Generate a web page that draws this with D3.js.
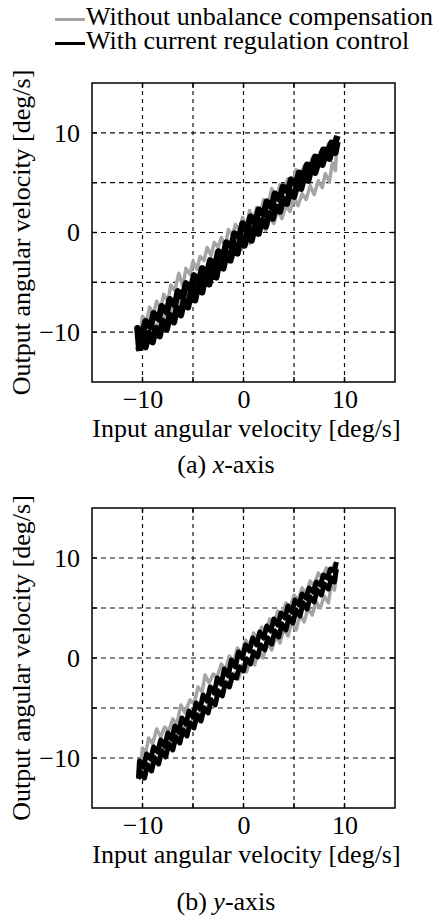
<!DOCTYPE html>
<html>
<head>
<meta charset="utf-8">
<script src="https://cdn.jsdelivr.net/npm/d3@7"></script>
<style>
  html, body { margin: 0; padding: 0; background: #fff; }
  svg text { font-family: "Liberation Serif", "Times New Roman", serif; fill: #000; }
</style>
</head>
<body>
<svg id="chart"></svg>
<script>
// Input vs output angular velocity, two panels (x-axis / y-axis)

const width = 446;
const height = 917;

const domain = [-15, 15];
const gridTicks = [-10, -5, 0, 5, 10];
const labelTicks = [-10, 0, 10];

const seriesNames = ["Without unbalance compensation", "With current regulation control"];
const seriesColors = ["#a4a4a4", "#000000"];

// panel (a): x-axis, gray = without compensation, black = with current regulation
const grayUpA = [[-10.3,-10.9],[-10.1,-9.2],[-10.0,-8.4],[-9.6,-8.9],[-9.3,-7.5],[-8.9,-8.2],[-8.6,-6.9],[-8.2,-7.6],[-7.9,-6.2],[-7.5,-6.9],[-7.2,-5.3],[-6.8,-5.8],[-6.4,-4.1],[-6.0,-5.4],[-5.7,-3.6],[-5.3,-4.2],[-5.0,-2.9],[-4.6,-3.7],[-4.3,-2.4],[-3.9,-2.8],[-3.6,-1.5],[-3.2,-2.3],[-2.9,-1.0],[-2.5,-1.5],[-2.2,-0.5],[-1.8,-1.4],[-1.5,0.3],[-1.1,-0.3],[-0.8,0.8],[-0.4,0.2],[-0.1,1.5],[0.3,0.7],[0.6,2.2],[1.0,1.3],[1.3,2.5],[1.7,2.1],[2.0,3.3],[2.4,2.6],[2.8,4.4],[3.2,3.2],[3.6,4.8],[4.0,4.3],[4.4,5.4],[4.8,4.8],[5.2,6.3],[5.6,5.5],[6.0,6.7],[6.4,6.3],[6.8,7.5],[7.2,6.8],[7.6,8.1],[8.0,7.7],[8.4,8.9],[8.8,8.3],[9.1,9.4],[9.2,8.6]];
const grayDownA = [[9.2,8.0],[9.1,6.2],[8.8,7.0],[8.5,5.1],[8.1,5.9],[7.8,4.5],[7.4,5.2],[7.0,3.8],[6.6,4.7],[6.2,3.3],[5.8,3.9],[5.4,2.7],[5.0,3.5],[4.6,2.1],[4.2,2.7],[3.8,1.4],[3.4,2.3],[3.0,0.9],[2.6,1.5],[2.2,0.2],[1.8,1.1],[1.4,-0.3],[1.0,0.3],[0.6,-1.1],[0.2,-0.2],[-0.2,-1.7],[-0.6,-1.0],[-1.0,-2.5],[-1.4,-1.6],[-1.8,-3.4],[-2.2,-2.6],[-2.6,-4.0],[-3.0,-3.5],[-3.4,-4.9],[-3.8,-4.1],[-4.2,-5.8],[-4.6,-5.0],[-5.0,-6.5],[-5.4,-5.9],[-5.8,-7.3],[-6.2,-6.6],[-6.6,-8.1],[-7.0,-7.5],[-7.4,-9.0],[-7.8,-8.3],[-8.2,-9.7],[-8.6,-9.2],[-9.0,-10.4],[-9.4,-9.8],[-9.8,-11.2],[-10.2,-10.6],[-10.4,-11.6]];
const blackUpA = [[-10.3,-11.9],[-10.5,-9.6],[-10.0,-10.2],[-9.7,-8.9],[-9.2,-9.5],[-8.9,-8.1],[-8.4,-8.7],[-8.1,-7.4],[-7.6,-8.0],[-7.3,-6.7],[-6.8,-7.3],[-6.5,-5.9],[-6.0,-6.5],[-5.7,-5.1],[-5.2,-5.7],[-4.9,-4.3],[-4.4,-4.9],[-4.1,-3.6],[-3.6,-4.1],[-3.3,-2.8],[-2.8,-3.3],[-2.5,-1.9],[-2.0,-2.4],[-1.7,-1.0],[-1.2,-1.4],[-0.9,-0.1],[-0.4,-0.4],[-0.1,0.9],[0.4,0.4],[0.7,1.6],[1.2,1.0],[1.5,2.3],[2.0,1.8],[2.3,3.1],[2.8,2.5],[3.1,3.9],[3.6,3.3],[3.9,4.6],[4.4,4.1],[4.7,5.3],[5.2,4.9],[5.5,6.0],[6.0,5.8],[6.3,6.8],[6.8,6.6],[7.1,7.6],[7.6,7.4],[7.9,8.3],[8.4,8.2],[8.7,9.0],[9.0,8.7],[9.3,9.7]];
const blackDownA = [[9.3,9.1],[9.1,8.0],[8.8,8.4],[8.5,7.4],[8.1,7.8],[7.8,6.8],[7.4,7.1],[7.1,6.0],[6.7,6.4],[6.4,5.2],[6.0,5.6],[5.7,4.4],[5.3,4.8],[5.0,3.6],[4.6,4.1],[4.3,2.9],[3.9,3.4],[3.6,2.1],[3.2,2.6],[2.9,1.4],[2.5,1.9],[2.2,0.6],[1.8,1.2],[1.5,-0.1],[1.1,0.6],[0.8,-0.8],[0.4,0.2],[0.1,-1.3],[-0.3,-0.5],[-0.6,-2.1],[-1.0,-1.2],[-1.3,-2.8],[-1.7,-2.0],[-2.0,-3.6],[-2.4,-2.9],[-2.7,-4.5],[-3.1,-3.7],[-3.4,-5.2],[-3.8,-4.5],[-4.1,-6.0],[-4.5,-5.3],[-4.8,-6.8],[-5.2,-6.0],[-5.5,-7.5],[-5.9,-6.8],[-6.2,-8.3],[-6.6,-7.6],[-6.9,-9.0],[-7.3,-8.3],[-7.6,-9.7],[-8.0,-8.9],[-8.3,-10.4],[-8.7,-9.6],[-9.0,-11.0],[-9.4,-10.1],[-9.7,-11.5],[-10.1,-10.6],[-10.4,-11.8]];

// panel (b): y-axis
const grayUpB = [[-10.2,-11.0],[-10.0,-9.0],[-9.7,-9.6],[-9.4,-8.0],[-9.0,-8.6],[-8.6,-7.1],[-8.2,-7.9],[-7.8,-6.9],[-7.4,-7.3],[-7.0,-6.1],[-6.6,-6.6],[-6.2,-4.7],[-5.8,-5.5],[-5.3,-4.2],[-4.9,-4.6],[-4.5,-2.9],[-4.1,-3.4],[-3.8,-1.7],[-3.4,-2.5],[-3.0,-1.6],[-2.6,-1.9],[-2.2,-0.6],[-1.8,-1.2],[-1.4,0.2],[-1.0,-0.4],[-0.6,1.0],[-0.2,0.4],[0.2,1.8],[0.6,1.2],[1.0,2.5],[1.4,1.9],[1.8,3.1],[2.2,2.6],[2.6,3.9],[3.0,3.4],[3.4,4.7],[3.8,4.2],[4.2,5.5],[4.6,5.0],[5.0,6.3],[5.4,5.8],[5.8,7.0],[6.2,6.5],[6.6,7.7],[7.0,7.2],[7.4,8.5],[7.8,8.0],[8.2,9.0],[8.6,8.6],[9.0,9.4],[9.2,8.8]];
const grayDownB = [[9.2,8.2],[9.0,6.8],[8.7,7.4],[8.4,5.5],[8.0,6.2],[7.6,5.0],[7.2,5.6],[6.8,4.3],[6.4,5.0],[6.0,3.6],[5.6,4.3],[5.2,2.8],[4.8,3.6],[4.4,2.2],[4.0,2.9],[3.6,1.5],[3.2,2.2],[2.8,0.8],[2.4,1.5],[1.9,0.0],[1.5,0.7],[1.1,-0.7],[0.7,0.0],[0.3,-1.4],[-0.1,-0.7],[-0.5,-2.1],[-0.9,-1.5],[-1.3,-2.9],[-1.7,-2.3],[-2.1,-3.8],[-2.5,-3.2],[-2.9,-4.6],[-3.3,-4.0],[-3.7,-5.4],[-4.1,-4.9],[-4.5,-6.3],[-4.9,-5.7],[-5.3,-7.1],[-5.7,-6.5],[-6.1,-7.9],[-6.5,-7.3],[-6.9,-8.7],[-7.3,-8.1],[-7.7,-9.5],[-8.1,-8.9],[-8.5,-10.3],[-8.9,-9.7],[-9.3,-11.1],[-9.7,-10.5],[-10.1,-11.7],[-10.3,-11.2]];
const blackUpB = [[-10.4,-12.0],[-10.3,-10.3],[-9.9,-10.9],[-9.6,-9.6],[-9.2,-10.1],[-8.9,-8.9],[-8.5,-9.4],[-8.2,-8.2],[-7.8,-8.8],[-7.5,-7.5],[-7.1,-8.1],[-6.8,-6.8],[-6.4,-7.4],[-6.1,-6.0],[-5.7,-6.6],[-5.4,-5.3],[-5.0,-5.9],[-4.7,-4.5],[-4.3,-5.1],[-4.0,-3.7],[-3.6,-4.3],[-3.3,-2.9],[-2.9,-3.5],[-2.6,-2.0],[-2.2,-2.6],[-1.9,-1.1],[-1.5,-1.8],[-1.2,-0.2],[-0.8,-0.9],[-0.5,0.6],[-0.1,0.0],[0.2,1.3],[0.6,0.7],[0.9,2.0],[1.3,1.3],[1.6,2.6],[2.0,2.0],[2.3,3.2],[2.7,2.7],[3.0,3.9],[3.4,3.3],[3.7,4.5],[4.1,4.0],[4.4,5.2],[4.8,4.6],[5.1,5.8],[5.5,5.3],[5.8,6.4],[6.2,6.0],[6.5,7.0],[6.9,6.6],[7.2,7.6],[7.6,7.3],[7.9,8.3],[8.3,8.0],[8.6,8.9],[9.0,8.7],[9.2,9.6]];
const blackDownB = [[9.2,8.9],[9.0,7.6],[8.7,8.0],[8.4,6.9],[8.0,7.4],[7.7,6.3],[7.3,6.8],[7.0,5.6],[6.6,6.1],[6.3,4.9],[5.9,5.5],[5.6,4.2],[5.2,4.8],[4.9,3.5],[4.5,4.1],[4.2,2.8],[3.8,3.4],[3.5,2.1],[3.1,2.7],[2.8,1.4],[2.4,2.0],[2.1,0.8],[1.7,1.3],[1.4,0.1],[1.0,0.6],[0.7,-0.6],[0.3,-0.1],[0.0,-1.3],[-0.4,-0.9],[-0.7,-2.0],[-1.1,-1.7],[-1.4,-2.9],[-1.8,-2.5],[-2.1,-3.8],[-2.5,-3.3],[-2.8,-4.7],[-3.2,-4.2],[-3.5,-5.5],[-3.9,-5.0],[-4.2,-6.3],[-4.6,-5.7],[-4.9,-7.0],[-5.3,-6.5],[-5.6,-7.8],[-6.0,-7.2],[-6.3,-8.5],[-6.7,-7.9],[-7.0,-9.2],[-7.4,-8.6],[-7.7,-9.9],[-8.1,-9.3],[-8.4,-10.6],[-8.8,-10.0],[-9.1,-11.3],[-9.5,-10.7],[-9.8,-12.0],[-10.2,-11.4],[-10.4,-12.1]];

const panels = [
    { top: 83, bottom: 382, label: "(a) ", axis: "x", gray: [grayUpA, grayDownA], black: [blackUpA, blackDownA], blackWidth: 6.5, captionY: 473 },
    { top: 508, bottom: 808, label: "(b) ", axis: "y", gray: [grayUpB, grayDownB], black: [blackUpB, blackDownB], blackWidth: 5, captionY: 910 }
];

const plotLeft = 92;
const plotRight = 395;
const fontSize = 26;

const svg = d3.select("#chart")
    .attr("width", width)
    .attr("height", height);

// legend
const legend = svg.append("g").attr("class", "legend");
seriesNames.forEach((name, i) => {
    const ly = 19.5 + i * 24;
    legend.append("line")
        .attr("x1", 55).attr("x2", 85)
        .attr("y1", ly).attr("y2", ly)
        .attr("stroke", seriesColors[i])
        .attr("stroke-width", 3);
    legend.append("text")
        .attr("x", 86)
        .attr("y", ly + 5.5)
        .attr("font-size", "26px")
        .text(name);
});

panels.forEach(p => drawPanel(p));

function drawPanel(p) {
    const x = d3.scaleLinear().domain(domain).range([plotLeft, plotRight]);
    const y = d3.scaleLinear().domain(domain).range([p.bottom, p.top]);
    const g = svg.append("g");

    // dashed grid
    g.selectAll(".vgrid")
        .data(gridTicks)
        .enter().append("line")
        .attr("x1", d => x(d)).attr("x2", d => x(d))
        .attr("y1", p.top).attr("y2", p.bottom)
        .attr("stroke", "#111")
        .attr("stroke-width", 1.2)
        .attr("stroke-dasharray", "4,4");
    g.selectAll(".hgrid")
        .data(gridTicks)
        .enter().append("line")
        .attr("x1", plotLeft).attr("x2", plotRight)
        .attr("y1", d => y(d)).attr("y2", d => y(d))
        .attr("stroke", "#111")
        .attr("stroke-width", 1.2)
        .attr("stroke-dasharray", "5,4");

    // inner ticks on all four sides
    const tl = 5;
    gridTicks.forEach(t => {
        g.append("line").attr("x1", x(t)).attr("x2", x(t)).attr("y1", p.bottom).attr("y2", p.bottom - tl).attr("stroke", "#000").attr("stroke-width", 1.4);
        g.append("line").attr("x1", x(t)).attr("x2", x(t)).attr("y1", p.top).attr("y2", p.top + tl).attr("stroke", "#000").attr("stroke-width", 1.4);
        g.append("line").attr("x1", plotLeft).attr("x2", plotLeft + tl).attr("y1", y(t)).attr("y2", y(t)).attr("stroke", "#000").attr("stroke-width", 1.4);
        g.append("line").attr("x1", plotRight).attr("x2", plotRight - tl).attr("y1", y(t)).attr("y2", y(t)).attr("stroke", "#000").attr("stroke-width", 1.4);
    });

    // data
    const line = d3.line().x(d => x(d[0])).y(d => y(d[1]));
    g.selectAll(".gray")
        .data(p.gray)
        .enter().append("path")
        .attr("d", line)
        .attr("fill", "none")
        .attr("stroke", seriesColors[0])
        .attr("stroke-width", 3.5)
        .attr("stroke-linejoin", "round");
    g.selectAll(".black")
        .data(p.black)
        .enter().append("path")
        .attr("d", line)
        .attr("fill", "none")
        .attr("stroke", seriesColors[1])
        .attr("stroke-width", p.blackWidth)
        .attr("stroke-linejoin", "round");

    // frame
    g.append("rect")
        .attr("x", plotLeft).attr("y", p.top)
        .attr("width", plotRight - plotLeft)
        .attr("height", p.bottom - p.top)
        .attr("fill", "none")
        .attr("stroke", "#000")
        .attr("stroke-width", 1.5);

    // tick labels
    const xAxis = g.append("g")
        .attr("transform", `translate(0,${p.bottom})`)
        .call(d3.axisBottom(x).tickValues(labelTicks).tickSize(0).tickPadding(7.5));
    const yAxis = g.append("g")
        .attr("transform", `translate(${plotLeft},0)`)
        .call(d3.axisLeft(y).tickValues(labelTicks).tickSize(0).tickPadding(12));
    [xAxis, yAxis].forEach(a => {
        a.select(".domain").remove();
        a.attr("font-family", null).attr("font-size", null);
        a.selectAll("text")
            .style("font-size", fontSize + "px")
            .attr("fill", "#000");
    });

    // axis titles
    g.append("text")
        .attr("x", (plotLeft + plotRight) / 2 + 3)
        .attr("y", p.bottom + 55)
        .attr("text-anchor", "middle")
        .attr("font-size", fontSize + "px")
        .text("Input angular velocity [deg/s]");
    g.append("text")
        .attr("transform", `translate(30,${(p.top + p.bottom) / 2}) rotate(-90)`)
        .attr("text-anchor", "middle")
        .attr("font-size", fontSize + "px")
        .text("Output angular velocity [deg/s]");

    // caption
    const cap = g.append("text")
        .attr("x", 226)
        .attr("y", p.captionY)
        .attr("text-anchor", "middle")
        .attr("font-size", fontSize + "px");
    cap.append("tspan").text(p.label);
    cap.append("tspan").attr("font-style", "italic").text(p.axis);
    cap.append("tspan").text("-axis");
}
</script>
</body>
</html>
